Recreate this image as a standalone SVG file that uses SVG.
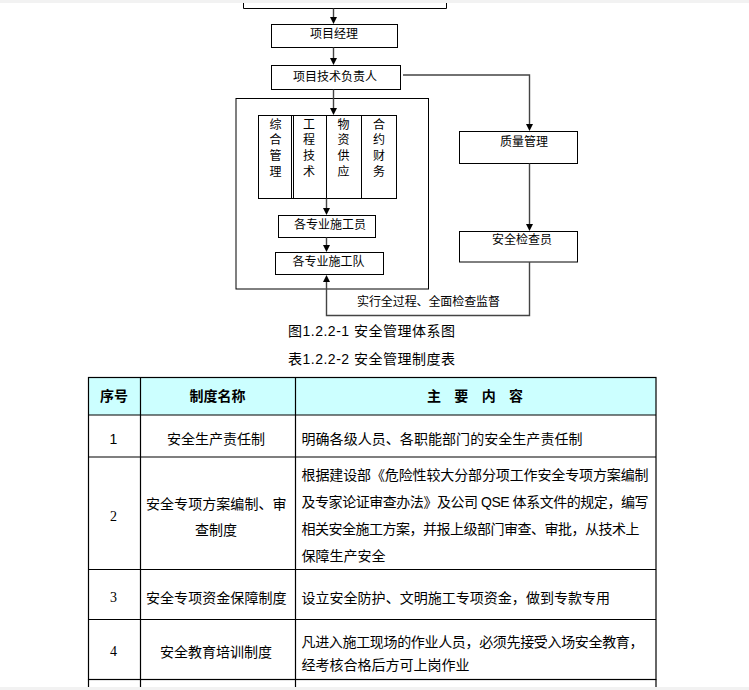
<svg xmlns="http://www.w3.org/2000/svg" width="749" height="690" viewBox="0 0 749 690">
<style>
text{font-family:"Liberation Sans","Noto Sans CJK SC",sans-serif;fill:#000;dominant-baseline:central}
.f{font-size:12px}
.t{font-size:14px}
.c{text-anchor:middle}
.b{font-weight:bold}
.box{fill:#fff;stroke:#000;stroke-width:1}
.ln{fill:none;stroke:#000;stroke-width:1}
.con{fill:none;stroke:#444;stroke-width:1.4}
.ah{fill:#000}
.grid{fill:none;stroke:#000;stroke-width:1.2}
</style>
<defs>
<path id="ahd" class="ah" d="M-3.5,-7 L3.5,-7 L0,0 z"/>
</defs>
<rect x="0" y="0" width="749" height="690" fill="#fff"/>

<g id="top-box"><path class="ln" d="M243.5,0 V8.5 H446.5 V0"/></g>
<g id="xmjl"><rect class="box" x="271.5" y="24.5" width="126" height="23"/><text class="f c" x="334" y="34">项目经理</text></g>
<g id="jsfzr"><rect class="box" x="271.5" y="65.5" width="129" height="24"/><text class="f c" x="335" y="76.5">项目技术负责人</text></g>

<g id="dept-group">
<rect class="box" x="236" y="98.5" width="192.5" height="190.5"/>
</g>
<g id="columns">
<rect class="box" x="258.5" y="115.5" width="138" height="83"/>
<line class="ln" x1="291.5" y1="115.5" x2="291.5" y2="198.5"/>
<line class="ln" x1="293.5" y1="115.5" x2="293.5" y2="198.5"/>
<line class="ln" x1="326.5" y1="115.5" x2="326.5" y2="198.5"/>
<line class="ln" x1="361.5" y1="115.5" x2="361.5" y2="198.5"/>
<text class="f c" x="275.5" y="124.5">综</text><text class="f c" x="275.5" y="140">合</text><text class="f c" x="275.5" y="156">管</text><text class="f c" x="275.5" y="171.5">理</text>
<text class="f c" x="309" y="124.5">工</text><text class="f c" x="309" y="140">程</text><text class="f c" x="309" y="156">技</text><text class="f c" x="309" y="171.5">术</text>
<text class="f c" x="343.5" y="124.5">物</text><text class="f c" x="343.5" y="140">资</text><text class="f c" x="343.5" y="156">供</text><text class="f c" x="343.5" y="171.5">应</text>
<text class="f c" x="379" y="124.5">合</text><text class="f c" x="379" y="140">约</text><text class="f c" x="379" y="156">财</text><text class="f c" x="379" y="171.5">务</text>
</g>
<g id="sgy"><rect class="box" x="278.5" y="215.5" width="97" height="22"/><text class="f c" x="330" y="224.5">各专业施工员</text></g>
<g id="sgd"><rect class="box" x="275.5" y="252.5" width="108" height="22"/><text class="f c" x="328.5" y="261.5">各专业施工队</text></g>
<g id="zlgl"><rect class="box" x="459.5" y="131.5" width="118" height="32"/><text class="f c" x="524" y="141.5">质量管理</text></g>
<g id="aqjcy"><rect class="box" x="459.5" y="231.5" width="118" height="30.5"/><text class="f c" x="522" y="240">安全检查员</text></g>

<g id="connectors">
<line class="con" x1="333.5" y1="8.5" x2="333.5" y2="18"/>
<use href="#ahd" x="333.5" y="24"/>
<line class="con" x1="333.5" y1="47.5" x2="333.5" y2="59"/>
<use href="#ahd" x="333.5" y="65"/>
<line class="con" x1="333.5" y1="89.5" x2="333.5" y2="109"/>
<use href="#ahd" x="333.5" y="115"/>
<polyline class="con" points="403,75 529.5,75 529.5,125"/>
<use href="#ahd" x="529.5" y="131"/>
<line class="con" x1="529.5" y1="163.5" x2="529.5" y2="225"/>
<use href="#ahd" x="529.5" y="231"/>
<line class="con" x1="326.5" y1="198.5" x2="326.5" y2="209"/>
<use href="#ahd" x="326.5" y="215"/>
<line class="con" x1="326.5" y1="237.5" x2="326.5" y2="246"/>
<use href="#ahd" x="326.5" y="252"/>
<polyline class="con" points="529.5,262 529.5,315.5 326.5,315.5 326.5,281"/>
<use href="#ahd" transform="translate(326.5,275) rotate(180)"/>
<text class="f" x="357" y="301.5" textLength="143">实行全过程、全面检查监督</text>
</g>

<g id="captions">
<text class="t" x="288" y="330.5" textLength="167">图1.2.2-1 安全管理体系图</text>
<text class="t" x="288" y="358.5" textLength="167">表1.2.2-2 安全管理制度表</text>
</g>

<g id="table">
<rect x="88.5" y="377.5" width="567.5" height="37.5" fill="#ccffff"/>
<rect class="grid" x="88.5" y="377.5" width="567.5" height="302"/>
<line class="grid" x1="88.5" y1="415" x2="656" y2="415"/>
<line class="grid" x1="88.5" y1="457" x2="656" y2="457"/>
<line class="grid" x1="88.5" y1="569.5" x2="656" y2="569.5"/>
<line class="grid" x1="88.5" y1="619.5" x2="656" y2="619.5"/>
<line class="grid" x1="140.5" y1="377.5" x2="140.5" y2="690"/>
<line class="grid" x1="295.5" y1="377.5" x2="295.5" y2="690"/>
<line class="grid" x1="88.5" y1="679.5" x2="88.5" y2="690"/>
<line class="grid" x1="656" y1="679.5" x2="656" y2="690"/>

<text class="t c b" x="114" y="396">序号</text>
<text class="t c b" x="217.5" y="396">制度名称</text>
<text class="t b" x="427" y="396" textLength="96">主 要 内 容</text>

<text class="t c" x="113.5" y="439">1</text>
<text class="t c" x="216" y="439">安全生产责任制</text>
<text class="t" x="301.5" y="439" textLength="281">明确各级人员、各职能部门的安全生产责任制</text>

<text class="t c" x="113.5" y="516" style="font-family:'Liberation Serif',serif">2</text>
<text class="t" x="146" y="503.5" textLength="140.5">安全专项方案编制、审</text>
<text class="t c" x="216" y="530">查制度</text>
<text class="t" x="301.5" y="474.5" textLength="347">根据建设部《危险性较大分部分项工作安全专项方案编制</text>
<text class="t" x="301.5" y="501.8" textLength="347">及专家论证审查办法》及公司 QSE 体系文件的规定，编写</text>
<text class="t" x="301.5" y="529.1" textLength="338">相关安全施工方案，并报上级部门审查、审批，从技术上</text>
<text class="t" x="301.5" y="556.4">保障生产安全</text>

<text class="t c" x="113.5" y="597.5" style="font-family:'Liberation Serif',serif">3</text>
<text class="t" x="146" y="597.5" textLength="140.5">安全专项资金保障制度</text>
<text class="t" x="301.5" y="597.5" textLength="308.5">设立安全防护、文明施工专项资金，做到专款专用</text>

<text class="t c" x="113.5" y="651.5" style="font-family:'Liberation Serif',serif">4</text>
<text class="t c" x="216" y="651.5">安全教育培训制度</text>
<text class="t" x="301.5" y="641.7" textLength="342">凡进入施工现场的作业人员，必须先接受入场安全教育，</text>
<text class="t" x="301.5" y="665">经考核合格后方可上岗作业</text>
</g>

<rect x="0" y="0" width="749" height="3" fill="#f2f2f2"/>
<rect x="0" y="687" width="749" height="3" fill="#f2f2f2"/>
</svg>
